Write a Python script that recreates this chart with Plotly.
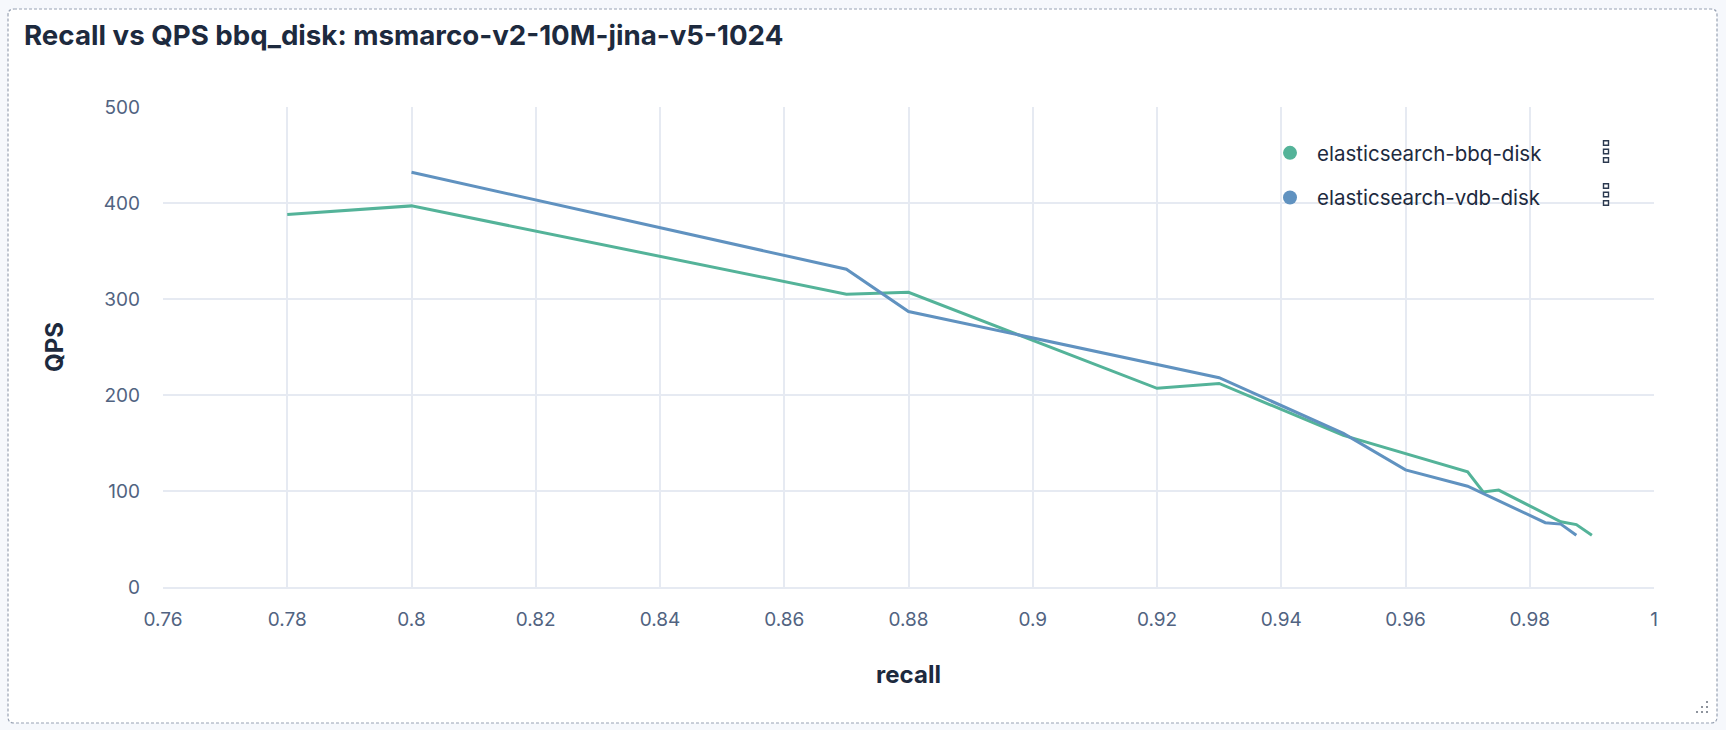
import plotly.graph_objects as go

# ---- data ----
bbq_recall = [0.78, 0.80, 0.87, 0.88, 0.92, 0.93, 0.95, 0.97, 0.9725, 0.975, 0.985, 0.9875, 0.99]
bbq_qps    = [388, 397, 305, 307, 207, 212, 158, 120, 99, 101, 68, 65, 54]

vdb_recall = [0.80, 0.87, 0.88, 0.93, 0.95, 0.96, 0.97, 0.9825, 0.985, 0.9875]
vdb_qps    = [432, 331, 287, 218, 160, 122, 105, 67, 65.5, 54]

series_names = ["elasticsearch-bbq-disk", "elasticsearch-vdb-disk"]
series_colors = ["#54B399", "#6092C0"]

x_ticks = [0.76, 0.78, 0.80, 0.82, 0.84, 0.86, 0.88, 0.90, 0.92, 0.94, 0.96, 0.98, 1.0]
x_tick_labels = ["0.76", "0.78", "0.8", "0.82", "0.84", "0.86", "0.88", "0.9", "0.92", "0.94", "0.96", "0.98", "1"]
y_ticks = [0, 100, 200, 300, 400, 500]

title_text = "Recall vs QPS bbq_disk: msmarco-v2-10M-jina-v5-1024"

# ---- layout geometry (pixels) ----
W, H = 1726, 730
L, R, T, B = 163, 72, 107, 143
PW, PH = W - L - R, H - T - B

def px(x):
    return (x - L) / PW

def py(y):
    return (H - B - y) / PH

FONT = "Inter, Roboto, sans-serif"
TXT = "#1D2A3E"
SUB = "#516381"
GRID = "#E6EAF2"
PAGE = "#F6F8FC"

fig = go.Figure()

for rx, qy, name, col in [(bbq_recall, bbq_qps, series_names[0], series_colors[0]),
                          (vdb_recall, vdb_qps, series_names[1], series_colors[1])]:
    fig.add_trace(go.Scatter(x=rx, y=qy, mode="lines", name=name,
                             line=dict(color=col, width=3), showlegend=False,
                             hoverinfo="x+y+name"))

for i, (name, col) in enumerate(zip(series_names, series_colors)):
    fig.add_trace(go.Scatter(x=[None], y=[None], mode="markers", name=name,
                             marker=dict(color=col, size=14, symbol="circle"),
                             legendgroup=f"g{i}", showlegend=True))

shapes = []
# panel (rounded, dashed)
x0, x1, y0, y1, r = 8, 1717, 9, 723, 6
path = (f"M {px(x0 + r)} {py(y0)} L {px(x1 - r)} {py(y0)} Q {px(x1)} {py(y0)} {px(x1)} {py(y0 + r)} "
        f"L {px(x1)} {py(y1 - r)} Q {px(x1)} {py(y1)} {px(x1 - r)} {py(y1)} "
        f"L {px(x0 + r)} {py(y1)} Q {px(x0)} {py(y1)} {px(x0)} {py(y1 - r)} "
        f"L {px(x0)} {py(y0 + r)} Q {px(x0)} {py(y0)} {px(x0 + r)} {py(y0)} Z")
shapes.append(dict(type="path", xref="paper", yref="paper", path=path,
                   fillcolor="white", line=dict(color="#98A2B3", width=1.2, dash="3px,2px"),
                   layer="below"))
# legend handle icons
for cy in [151.5, 194.5]:
    for dy in [-8.5, 0, 8.5]:
        shapes.append(dict(type="rect", xref="paper", yref="paper",
                           x0=px(1603.5), x1=px(1608.5),
                           y0=py(cy + dy - 2.2), y1=py(cy + dy + 2.2),
                           fillcolor="white", line=dict(color="#2B394F", width=1.4),
                           layer="above"))
# resize handle dots
for dx, dy in [(0, 0), (-5, 0), (0, -5), (-10, 0), (-5, -5), (0, -10)]:
    shapes.append(dict(type="circle", xref="paper", yref="paper",
                       x0=px(1707 + dx - 1), x1=px(1707 + dx + 1),
                       y0=py(712 + dy - 1), y1=py(712 + dy + 1),
                       fillcolor="#69707D", line=dict(width=0), layer="above"))

fig.update_layout(
    width=W, height=H,
    margin=dict(l=L, r=R, t=T, b=B, autoexpand=False),
    paper_bgcolor=PAGE,
    plot_bgcolor="white",
    font=dict(family=FONT, color=SUB, size=19),
    title=dict(text=f"<b>{title_text}</b>", x=24 / W, xanchor="left", xref="container",
               y=1 - 35 / H, yanchor="middle", yref="container",
               font=dict(family=FONT, size=27.7, color=TXT)),
    xaxis=dict(range=[0.76, 1.0], tickvals=x_ticks, ticktext=x_tick_labels,
               showgrid=True, gridcolor=GRID, gridwidth=1.5,
               showline=True, linecolor=GRID, linewidth=2, zeroline=False,
               ticks="", ticklabelstandoff=14,
               tickfont=dict(size=19, color=SUB, family=FONT),
               title=dict(text="<b>recall</b>", standoff=36,
                          font=dict(size=24, color=TXT, family=FONT))),
    yaxis=dict(range=[0, 500], tickvals=y_ticks,
               showgrid=True, gridcolor=GRID, gridwidth=1.5,
               showline=False, zeroline=False,
               ticks="", ticklabelstandoff=22,
               tickfont=dict(size=19, color=SUB, family=FONT),
               title=dict(text="<b>QPS</b>", standoff=33,
                          font=dict(size=24, color=TXT, family=FONT))),
    legend=dict(x=px(1263), y=py(133), xanchor="left", yanchor="top",
                bgcolor="rgba(0,0,0,0)", font=dict(size=20.5, color=TXT, family=FONT),
                tracegroupgap=15, traceorder="grouped", itemsizing="trace", itemwidth=44),
    shapes=shapes,
    showlegend=True,
)

fig.write_html("out.html",
               config={"displayModeBar": False},
               post_script="document.body.style.margin='0';document.body.style.background='#F6F8FC';")
